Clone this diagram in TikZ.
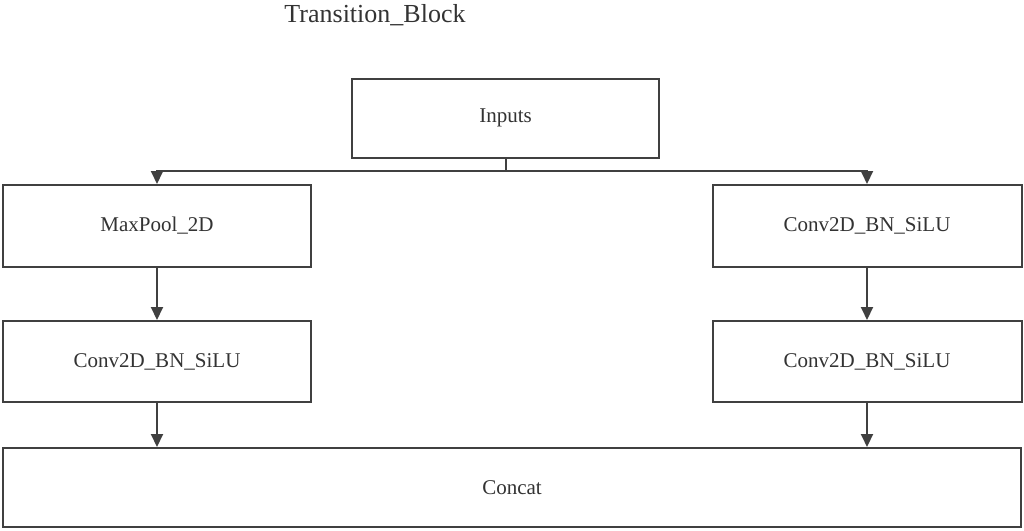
\documentclass[tikz,border=0pt]{standalone}
\usepackage{fontspec}
\setmainfont{Liberation Serif}
\usetikzlibrary{arrows.meta}

\tikzset{
  blockbox/.style={draw=black!75, line width=2pt, fill=white, inner sep=0pt,
    font=\fontsize{21}{24}\selectfont, text=black!80},
  flow/.style={draw=black!75, line width=2pt, -{Triangle[length=13pt,width=12pt]}},
}

\begin{document}
\begin{tikzpicture}[x=1pt,y=-1pt]

% Canvas
\useasboundingbox (0,0) rectangle (1024,530);

% Title
\node[font=\fontsize{26}{30}\selectfont, text=black!80] (title) at (375,15) {Transition\_Block};

% Blocks
\node[blockbox, minimum width=307pt, minimum height=79pt] (inputs) at (505.5,118) {Inputs};
\node[blockbox, minimum width=308pt, minimum height=82pt] (maxpool) at (157,226) {MaxPool\_2D};
\node[blockbox, minimum width=309pt, minimum height=82pt] (convRa) at (867,226) {Conv2D\_BN\_SiLU};
\node[blockbox, minimum width=308pt, minimum height=81pt] (convL) at (157,361.5) {Conv2D\_BN\_SiLU};
\node[blockbox, minimum width=309pt, minimum height=81pt] (convRb) at (867,361.5) {Conv2D\_BN\_SiLU};
\node[blockbox, minimum width=1018pt, minimum height=79pt] (concat) at (512,487.5) {Concat};

% Split below the inputs
\draw[draw=black!75, line width=2pt] (inputs.south) -- ++(0,12) coordinate (split);
\draw[flow] (split) -| (maxpool.north);
\draw[flow] (split) -| (convRa.north);

% Left branch
\draw[flow] (maxpool) -- (convL);
\draw[flow] (convL.south) -- (convL.south |- concat.north);

% Right branch
\draw[flow] (convRa) -- (convRb);
\draw[flow] (convRb.south) -- (convRb.south |- concat.north);

\end{tikzpicture}
\end{document}
